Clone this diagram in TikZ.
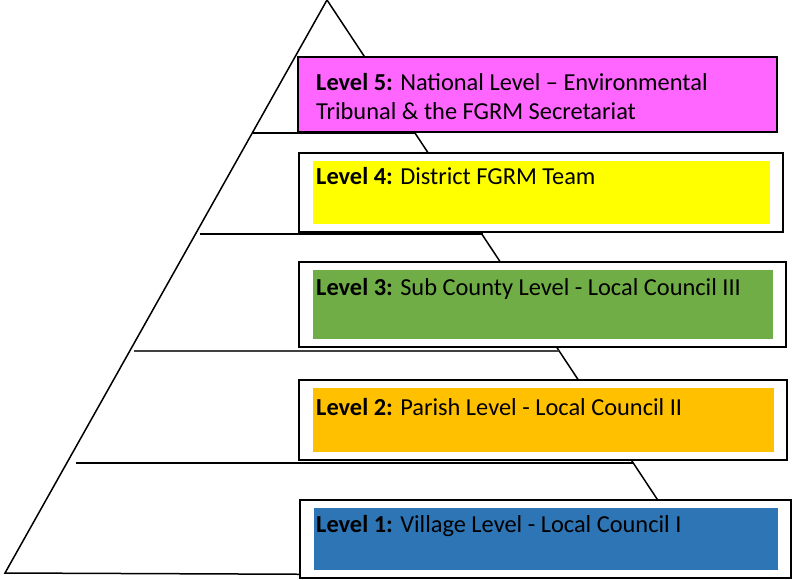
\documentclass[tikz,border=0pt]{standalone}
\usepackage{fontspec}
\setmainfont{Carlito}
\usepackage{tikz}
\definecolor{lvlmagenta}{HTML}{FF66FF}
\definecolor{lvlyellow}{HTML}{FFFF00}
\definecolor{lvlgreen}{HTML}{70AD47}
\definecolor{lvlorange}{HTML}{FFC000}
\definecolor{lvlblue}{HTML}{2E75B6}
\tikzset{
	pyramid/.style={line width=1.5pt, line join=miter},
	band/.style={line width=1.3pt},
	outline/.style={draw=black, line width=2pt, fill=white},
	leveltext/.style={anchor=base west, inner sep=0pt, align=left, font=\fontsize{24.4}{29.5}\selectfont},
}
\newcommand{\levelbox}[5] % {x1}{y1}{x2}{y2}{couleur} cadre blanc + bande coloree
{
	\draw [outline] (#1,#2) rectangle (#3,#4);
	\fill [#5] (#1+14,#2+8) rectangle (#3-13,#4-8);
}

\begin{document}
\begin{tikzpicture}[x=1pt, y=-1pt]

	\useasboundingbox (0,0) rectangle (792,580);

	% pyramide
	\coordinate (apex) at (327,0);
	\coordinate (baseL) at (5,573);
	\coordinate (baseR) at (708,576);
	\draw [pyramid] (baseR) -- (baseL) -- (apex) -- (baseR);

	% separations entre niveaux
	\draw [band] (253,133) -- (415,133);
	\draw [band] (200,234) -- (483,234);
	\draw [band, black!75] (134,351) -- (559,351);
	\draw [band] (76,463) -- (633,463);

	% niveau 5 (deux lignes : base = derniere ligne)
	\draw [outline, fill=lvlmagenta] (298,57) rectangle (777,132);
	\node [leveltext] (lvl5) at (316,120) {\textbf{Level 5:} National Level -- Environmental\\Tribunal \& the FGRM Secretariat};

	% niveaux 4 a 1
	\levelbox{299}{153}{783}{232}{lvlyellow}
	\node [leveltext] (lvl4) at (316,185) {\textbf{Level 4:} District FGRM Team};

	\levelbox{299}{262}{786}{347}{lvlgreen}
	\node [leveltext] (lvl3) at (316,295.5) {\textbf{Level 3:} Sub County Level - Local Council III};

	\levelbox{299}{380}{787}{460}{lvlorange}
	\node [leveltext] (lvl2) at (316,415) {\textbf{Level 2:} Parish Level - Local Council II};

	\levelbox{300}{500}{791}{578}{lvlblue}
	\node [leveltext] (lvl1) at (316,532) {\textbf{Level 1:} Village Level - Local Council I};

\end{tikzpicture}
\end{document}
